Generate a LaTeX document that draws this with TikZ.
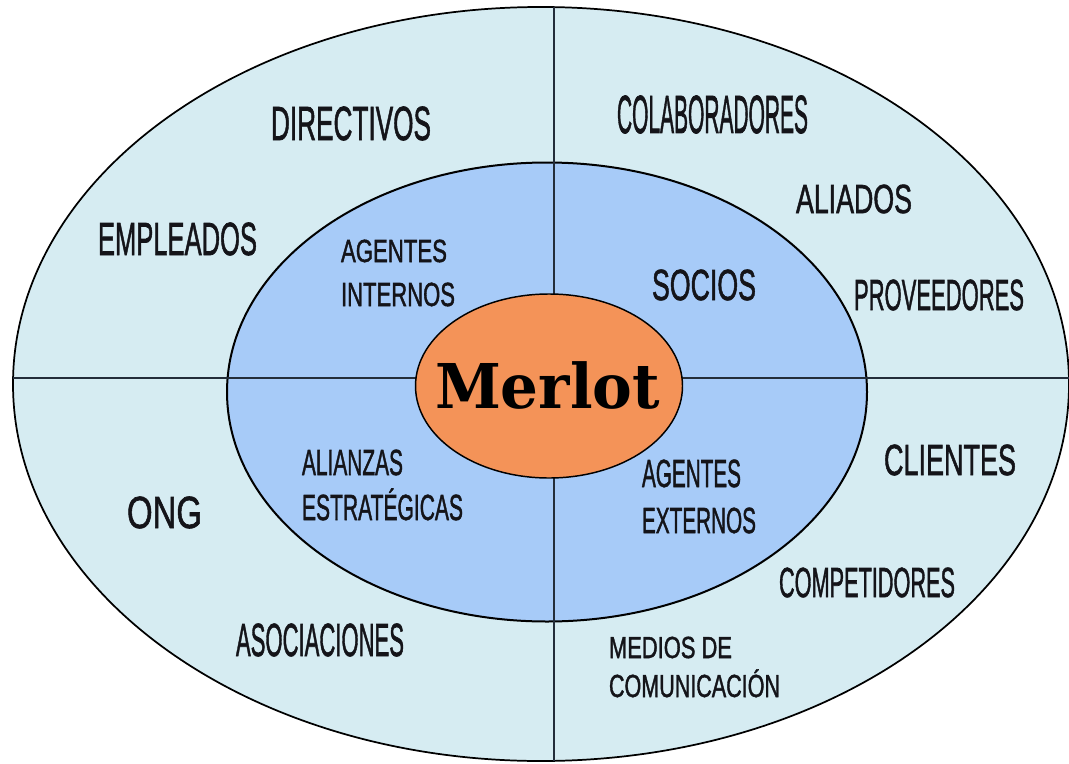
\documentclass[tikz,border=0pt]{standalone}
\usepackage{fontspec}
\setmainfont{Liberation Sans}
\newfontfamily\labfont{Liberation Sans}[FakeBold=1.6]
\newfontfamily\merlotfont{DejaVu Serif}
\usetikzlibrary{shapes.geometric}
\definecolor{outerblue}{RGB}{214,236,242}
\definecolor{midblue}{RGB}{167,203,248}
\definecolor{coreorange}{RGB}{244,147,88}
\definecolor{linedark}{RGB}{35,45,58}
\definecolor{textdark}{RGB}{20,20,25}
\newlength\labw
\newlength\labh
\newcommand\fitlab[3]{\labw=#1pt\labw=0.75\labw\labh=#2pt\labh=0.75\labh\resizebox{\labw}{\labh}{\smash{#3}\vphantom{X}}}
\tikzset{
  ring/.style={ellipse, draw=black, inner sep=0pt, outer sep=0pt},
  divider/.style={draw=linedark, line width=1.1pt},
  lab/.style={inner sep=0pt, outer sep=0pt, anchor=south west, text=textdark, font=\labfont\fontsize{20}{20}\selectfont}
}
\begin{document}
\begin{tikzpicture}[x=0.75pt,y=-0.75pt]
\useasboundingbox (0,0) rectangle (1069,763);
\fill[white] (0,0) rectangle (1069,763);
% rings
\node[ring, fill=outerblue, line width=1.3pt, minimum width=792pt, minimum height=565.5pt] (outer) at (541,384) {};
\node[ring, fill=midblue, line width=1.5pt, minimum width=480pt, minimum height=344.25pt] (middle) at (547,392) {};
% dividers
\coordinate (vtop) at (554,7);
\coordinate (vbot) at (554,761);
\coordinate (hleft) at (13,378);
\coordinate (hright) at (1069,378);
\draw[divider] (vtop) -- (vbot);
\draw[divider] (hleft) -- (hright);
% core
\node[ring, fill=coreorange, line width=1.1pt, minimum width=200.25pt, minimum height=138pt] (core) at (549,386) {};
\node[inner sep=0pt, outer sep=0pt, anchor=south west, text=black] (merlot) at (435,408) {\merlotfont\bfseries\fitlab{225}{45}{Merlot}};
% outer labels
\node[lab] (directivos) at (271,140) {\fitlab{160}{33}{DIRECTIVOS}};
\node[lab] (colaboradores) at (617,133) {\fitlab{191}{37}{COLABORADORES}};
\node[lab] (aliados) at (796,213) {\fitlab{116}{28}{ALIADOS}};
\node[lab] (proveedores) at (854,310) {\fitlab{170}{30}{PROVEEDORES}};
\node[lab] (empleados) at (98,255) {\fitlab{159}{32}{EMPLEADOS}};
\node[lab] (ong) at (127,528) {\fitlab{75}{31}{ONG}};
\node[lab] (asociaciones) at (236,656) {\fitlab{168}{32}{ASOCIACIONES}};
\node[lab] (clientes) at (884,475) {\fitlab{132}{30}{CLIENTES}};
\node[lab] (competidores) at (779,597) {\fitlab{176}{29}{COMPETIDORES}};
\node[lab] (medios) at (609,658) {\fitlab{123}{21}{MEDIOS DE}};
\node[lab] (comunicacion) at (609,697) {\fitlab{171}{22}{COMUNICACIÓN}};
% middle labels
\node[lab] (agint1) at (341,262) {\fitlab{106}{22}{AGENTES}};
\node[lab] (agint2) at (341,306) {\fitlab{114}{23}{INTERNOS}};
\node[lab] (socios) at (652,300) {\fitlab{104}{30}{SOCIOS}};
\node[lab] (alianzas) at (302,475) {\fitlab{101}{25}{ALIANZAS}};
\node[lab] (estrategicas) at (302,520) {\fitlab{161}{25}{ESTRATÉGICAS}};
\node[lab] (agext1) at (642,487) {\fitlab{99}{27}{AGENTES}};
\node[lab] (agext2) at (642,533) {\fitlab{114}{25}{EXTERNOS}};
\end{tikzpicture}
\end{document}
